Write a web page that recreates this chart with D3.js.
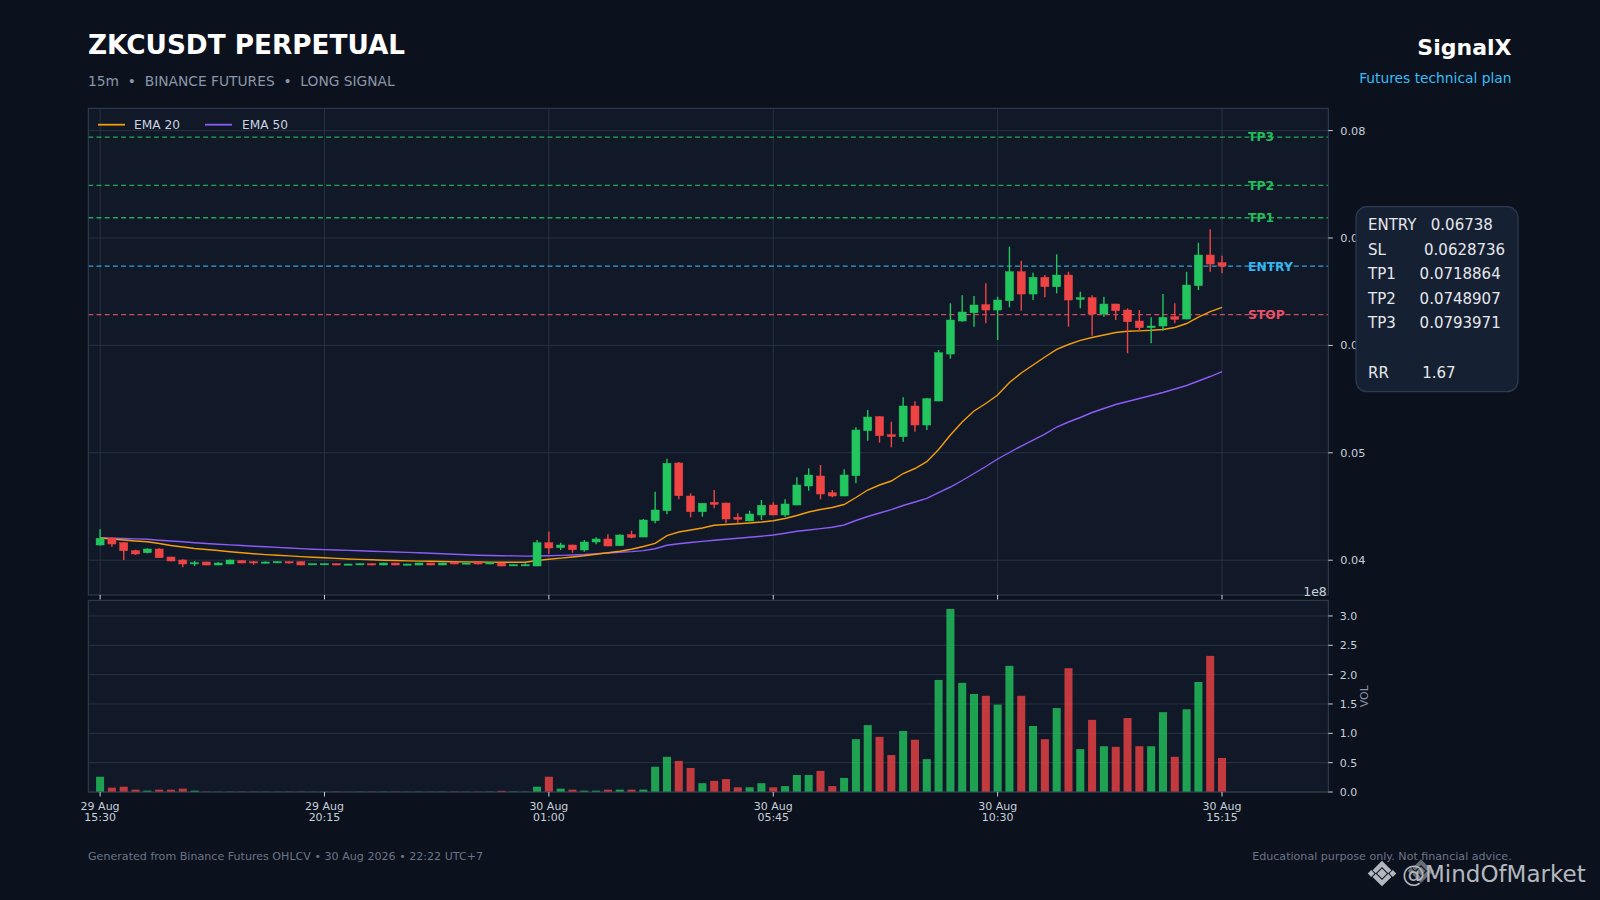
<!DOCTYPE html>
<html><head><meta charset="utf-8">
<script src="https://cdn.jsdelivr.net/npm/d3@7/dist/d3.min.js"></script>
<style>
html,body{margin:0;padding:0;background:#0b111d;}
svg{display:block;font-family:"DejaVu Sans",sans-serif;}
</style></head><body>
<svg id="chart" width="1600" height="900"></svg>
<script>
// ---------- DATA ----------
const opens=[0.041415,0.042067,0.041629,0.040884,0.040698,0.041043,0.040298,0.040019,0.039674,0.039832,
0.039553,0.039646,0.039953,0.039860,0.039739,0.039767,0.039860,0.039860,0.039581,0.039590,
0.039674,0.039581,0.039581,0.039674,0.039553,0.039739,0.039553,0.039553,0.039739,0.039553,
0.039832,0.039646,0.039832,0.039646,0.039739,0.039488,0.039488,0.039460,0.041629,0.041164,
0.041415,0.040950,0.041694,0.041974,0.041350,0.042374,0.042160,0.043677,0.044608,0.049049,
0.045977,0.044515,0.045391,0.045325,0.043994,0.043650,0.044208,0.045139,0.044208,0.045139,
0.046908,0.047839,0.046284,0.045977,0.047867,0.052057,0.053360,0.051684,0.051498,0.054356,
0.052587,0.054822,0.059197,0.062270,0.063042,0.063787,0.063293,0.064159,0.066859,0.064783,
0.066338,0.065463,0.066552,0.064290,0.064439,0.062921,0.063852,0.063293,0.062270,0.061646,
0.061804,0.062670,0.062456,0.065556,0.068414,0.067697];
const highs=[0.042877,0.042113,0.041694,0.040978,0.041108,0.041108,0.040326,0.040084,0.039926,0.039860,
0.039832,0.040065,0.040019,0.039926,0.039898,0.039926,0.039898,0.039898,0.039646,0.039660,
0.039711,0.039674,0.039700,0.039711,0.039760,0.039760,0.039674,0.039767,0.039767,0.039760,
0.039860,0.039767,0.039860,0.039800,0.039767,0.039600,0.039711,0.041881,0.042653,0.041629,
0.041443,0.041881,0.042132,0.042411,0.042411,0.042746,0.043836,0.046377,0.049450,0.049142,
0.046228,0.045325,0.046536,0.045353,0.044366,0.044608,0.045605,0.045391,0.045670,0.047718,
0.048556,0.048863,0.046536,0.048463,0.052373,0.053984,0.053425,0.052894,0.055166,0.054794,
0.055101,0.059570,0.063917,0.064662,0.064597,0.065779,0.064532,0.069186,0.067883,0.066766,
0.066552,0.068479,0.066859,0.064997,0.064662,0.064532,0.063880,0.063452,0.063293,0.062614,
0.064783,0.063917,0.066859,0.069559,0.070807,0.068349];
const lows=[0.041369,0.041257,0.040019,0.040484,0.040642,0.040205,0.039898,0.039339,0.039460,0.039525,
0.039525,0.039618,0.039711,0.039581,0.039711,0.039749,0.039674,0.039525,0.039553,0.039560,
0.039525,0.039560,0.039560,0.039525,0.039530,0.039525,0.039530,0.039540,0.039530,0.039540,
0.039618,0.039618,0.039600,0.039630,0.039432,0.039470,0.039460,0.039432,0.040577,0.040950,
0.040698,0.040791,0.041480,0.041294,0.041322,0.042039,0.042132,0.043435,0.044273,0.045670,
0.043994,0.044050,0.044832,0.043435,0.043491,0.043622,0.043743,0.044180,0.044050,0.045111,
0.046470,0.045670,0.045856,0.045949,0.047159,0.051125,0.050939,0.050511,0.051032,0.051964,
0.052122,0.054794,0.058760,0.062205,0.061739,0.062055,0.060500,0.063545,0.063228,0.064224,
0.064476,0.064848,0.061739,0.063452,0.060901,0.062670,0.062363,0.059262,0.061274,0.060193,
0.061367,0.062055,0.062428,0.065156,0.066859,0.066710];
const closes=[0.042039,0.041508,0.040884,0.040577,0.041043,0.040233,0.039926,0.039646,0.039767,0.039553,
0.039739,0.040019,0.039739,0.039739,0.039832,0.039860,0.039739,0.039553,0.039674,0.039680,
0.039553,0.039646,0.039674,0.039553,0.039739,0.039553,0.039646,0.039739,0.039553,0.039739,
0.039646,0.039739,0.039646,0.039767,0.039460,0.039581,0.039581,0.041629,0.041136,0.041415,
0.040978,0.041694,0.041974,0.041322,0.042346,0.042132,0.043743,0.044674,0.049021,0.046005,
0.044515,0.045297,0.045204,0.043836,0.043808,0.044301,0.045111,0.044208,0.045232,0.047001,
0.047932,0.046163,0.045977,0.047932,0.052122,0.053332,0.051591,0.051498,0.054356,0.052587,
0.055036,0.059318,0.062363,0.063107,0.063759,0.063293,0.064224,0.066859,0.064783,0.066338,
0.065463,0.066552,0.064224,0.064439,0.062921,0.063852,0.063228,0.062205,0.061646,0.061804,
0.062614,0.062428,0.065621,0.068414,0.067576,0.067380];
const volumes=[2.6e7,7.4e6,9.0e6,4.0e6,2.3e6,4.0e6,4.0e6,5.7e6,2.3e6,6e5,
4e5,5e5,6e5,4e5,3e5,4e5,5e5,6e5,3e5,4e5,
5e5,3e5,4e5,5e5,4e5,6e5,3e5,5e5,4e5,5e5,
6e5,4e5,5e5,6e5,2.0e6,8e5,6e5,9.0e6,2.6e7,5.7e6,
4.0e6,2.3e6,2.3e6,4.0e6,4.0e6,4.0e6,4.0e6,4.3e7,6.0e7,5.3e7,
4.1e7,1.5e7,1.9e7,2.2e7,8.0e6,8.0e6,1.5e7,8.0e6,1.0e7,2.9e7,
2.9e7,3.6e7,1.0e7,2.4e7,9.0e7,1.14e8,9.4e7,6.3e7,1.04e8,8.9e7,
5.6e7,1.91e8,3.12e8,1.86e8,1.67e8,1.64e8,1.49e8,2.15e8,1.64e8,1.125e8,
9.0e7,1.43e8,2.11e8,7.3e7,1.23e8,7.8e7,7.7e7,1.26e8,7.8e7,7.8e7,
1.36e8,6.0e7,1.41e8,1.875e8,2.32e8,5.8e7];
const ema20=[0.042067,0.041974,0.041881,0.041788,0.041713,0.041555,0.041369,0.041229,0.041089,0.040996,
0.040903,0.040791,0.040689,0.040596,0.040521,0.040466,0.040400,0.040335,0.040270,0.040223,
0.040168,0.040112,0.040074,0.040037,0.040000,0.039972,0.039935,0.039916,0.039898,0.039879,
0.039860,0.039842,0.039832,0.039823,0.039814,0.039804,0.039814,0.039972,0.040084,0.040196,
0.040298,0.040410,0.040549,0.040689,0.040829,0.041024,0.041275,0.041573,0.042281,0.042625,
0.042812,0.042998,0.043249,0.043324,0.043389,0.043463,0.043556,0.043677,0.043882,0.044161,
0.044487,0.044720,0.044906,0.045186,0.045837,0.046536,0.047001,0.047374,0.048072,0.048537,
0.049170,0.050306,0.051656,0.052866,0.053891,0.054589,0.055380,0.056544,0.057428,0.058173,
0.058918,0.059635,0.060082,0.060473,0.060733,0.060966,0.061199,0.061311,0.061357,0.061404,
0.061478,0.061664,0.062036,0.062642,0.063154,0.063545];
const ema50=[0.042095,0.042058,0.042020,0.041983,0.041946,0.041862,0.041788,0.041713,0.041629,0.041555,
0.041480,0.041424,0.041369,0.041303,0.041248,0.041192,0.041136,0.041080,0.041024,0.040987,
0.040950,0.040912,0.040875,0.040838,0.040801,0.040763,0.040726,0.040689,0.040642,0.040596,
0.040549,0.040503,0.040466,0.040438,0.040419,0.040400,0.040382,0.040391,0.040419,0.040447,
0.040484,0.040531,0.040614,0.040670,0.040735,0.040801,0.040894,0.041071,0.041387,0.041527,
0.041648,0.041750,0.041853,0.041955,0.042048,0.042132,0.042234,0.042346,0.042514,0.042691,
0.042812,0.042942,0.043072,0.043277,0.043696,0.044068,0.044394,0.044702,0.045093,0.045418,
0.045763,0.046303,0.046815,0.047420,0.048072,0.048724,0.049422,0.050027,0.050632,0.051191,
0.051749,0.052401,0.052866,0.053285,0.053751,0.054123,0.054496,0.054775,0.055054,0.055334,
0.055613,0.055939,0.056265,0.056684,0.057102,0.057549];
const xTickIndex=[0,19,38,57,76,95];
const xTickDay=["29 Aug","29 Aug","30 Aug","30 Aug","30 Aug","30 Aug"];
const xTickTime=["15:30","20:15","01:00","05:45","10:30","15:15"];
const priceTicks=[0.04,0.05,0.06,0.07,0.08];
const volTicks=[0,0.5e8,1.0e8,1.5e8,2.0e8,2.5e8,3.0e8];
const levelNames=["TP3","TP2","TP1","ENTRY","STOP"];
const levelValues=[0.0793971,0.0748907,0.0718864,0.06738,0.0628736];
const infoLines=["ENTRY   0.06738","SL        0.0628736","TP1     0.0718864","TP2     0.0748907","TP3     0.0793971","","RR       1.67"];
const legendNames=["EMA 20","EMA 50"];

// ---------- LAYOUT / STYLE ----------
const C={bg:"#0b111d",panel:"#111827",grid:"#263243",spine:"#334155",tick:"#c8d0da",
  up:"#22c55e",down:"#ef4444",ema20:"#f59e0b",ema50:"#8b5cf6",
  tp:"#22c55e",entry:"#38bdf8",stop:"#f0566c"};
const L={left:88.3,right:1328.3,pTop:108.3,pBot:595,vTop:600.3,vBot:792};
const levelColors=[C.tp,C.tp,C.tp,C.entry,C.stop];

const svg=d3.select("#chart");
svg.append("rect").attr("width",1600).attr("height",900).attr("fill",C.bg);

const n=closes.length;
const x=d3.scaleLinear().domain([-1,104]).range([L.left,L.right]);
const y=d3.scaleLinear().domain([0.03676,0.082076]).range([L.pBot,L.pTop]);
const yv=d3.scaleLinear().domain([0,3.267e8]).range([L.vBot,L.vTop]);
const step=x(1)-x(0), bw=step*0.68;

// panels
svg.append("rect").attr("x",L.left).attr("y",L.pTop).attr("width",L.right-L.left).attr("height",L.pBot-L.pTop).attr("fill",C.panel);
svg.append("rect").attr("x",L.left).attr("y",L.vTop).attr("width",L.right-L.left).attr("height",L.vBot-L.vTop).attr("fill",C.panel);

// grid
const g=svg.append("g");
g.selectAll(".hg").data(priceTicks).join("line").attr("x1",L.left).attr("x2",L.right)
 .attr("y1",d=>y(d)).attr("y2",d=>y(d)).attr("stroke",C.grid).attr("stroke-width",1);
g.selectAll(".vg").data(xTickIndex).join("line").attr("y1",L.pTop).attr("y2",L.pBot)
 .attr("x1",d=>x(d)).attr("x2",d=>x(d)).attr("stroke",C.grid).attr("stroke-width",1);
g.selectAll(".vhg").data(volTicks).join("line").attr("x1",L.left).attr("x2",L.right)
 .attr("y1",d=>yv(d)).attr("y2",d=>yv(d)).attr("stroke",C.grid).attr("stroke-width",1);

// level lines
const lv=svg.append("g");
levelValues.forEach((v,k)=>{
  lv.append("line").attr("x1",L.left).attr("x2",L.right).attr("y1",y(v)).attr("y2",y(v))
    .attr("stroke",levelColors[k]).attr("stroke-width",1.3).attr("stroke-dasharray","5,3.2").attr("opacity",0.85);
});

// EMAs
const idx=d3.range(n);
const line=arr=>d3.line().x(i=>x(i)).y(i=>y(arr[i]))(idx);
svg.append("path").attr("d",line(ema50)).attr("fill","none").attr("stroke",C.ema50).attr("stroke-width",1.4);
svg.append("path").attr("d",line(ema20)).attr("fill","none").attr("stroke",C.ema20).attr("stroke-width",1.4);

// candles
const cg=svg.append("g");
idx.forEach(i=>{
  const up=closes[i]>=opens[i], col=up?C.up:C.down;
  cg.append("line").attr("x1",x(i)).attr("x2",x(i)).attr("y1",y(highs[i])).attr("y2",y(lows[i]))
    .attr("stroke",col).attr("stroke-width",1.4);
  const top=y(Math.max(opens[i],closes[i])), bot=y(Math.min(opens[i],closes[i]));
  cg.append("rect").attr("x",x(i)-bw/2).attr("width",bw).attr("y",top).attr("height",Math.max(1.2,bot-top))
    .attr("fill",col).attr("stroke",col).attr("stroke-width",0.5);
});

// volume bars
svg.append("g").selectAll("rect").data(idx).join("rect")
  .attr("x",i=>x(i)-bw/2).attr("width",bw)
  .attr("y",i=>yv(volumes[i])).attr("height",i=>yv(0)-yv(volumes[i]))
  .attr("fill",i=>closes[i]>=opens[i]?C.up:C.down).attr("opacity",0.8);

// level labels
levelValues.forEach((v,k)=>{
  svg.append("text").attr("x",1248).attr("y",y(v)).attr("dy","0.36em").attr("fill",levelColors[k])
    .attr("font-size",12.3).attr("font-weight","bold").attr("opacity",0.95).text(levelNames[k]);
});

// spines
[[L.pTop,L.pBot],[L.vTop,L.vBot]].forEach(([t,b])=>{
  svg.append("rect").attr("x",L.left).attr("y",t).attr("width",L.right-L.left).attr("height",b-t)
   .attr("fill","none").attr("stroke",C.spine).attr("stroke-width",1);
});

// y axes (right)
const ax=svg.append("g");
priceTicks.forEach(v=>{
  ax.append("line").attr("x1",L.right).attr("x2",L.right+4.5).attr("y1",y(v)).attr("y2",y(v)).attr("stroke",C.tick);
  ax.append("text").attr("x",L.right+12).attr("y",y(v)).attr("dy","0.36em").attr("fill",C.tick)
    .attr("font-size",11.3).text(d3.format(".2f")(v));
});
volTicks.forEach(v=>{
  ax.append("line").attr("x1",L.right).attr("x2",L.right+4.5).attr("y1",yv(v)).attr("y2",yv(v)).attr("stroke",C.tick);
  ax.append("text").attr("x",L.right+11.5).attr("y",yv(v)).attr("dy","0.36em").attr("fill",C.tick)
    .attr("font-size",11).text(d3.format(".1f")(v/1e8));
});
ax.append("text").attr("x",L.right-1.5).attr("y",595.5).attr("text-anchor","end").attr("fill",C.tick)
  .attr("font-size",12.5).text("1e8");
ax.append("text").attr("transform",`translate(1368,${(L.vTop+L.vBot)/2}) rotate(-90)`).attr("text-anchor","middle")
  .attr("fill","#8a94a6").attr("font-size",11).text("VOL");

// x axis
xTickIndex.forEach((t,k)=>{
  ax.append("line").attr("x1",x(t)).attr("x2",x(t)).attr("y1",L.pBot).attr("y2",L.pBot+4.5).attr("stroke",C.tick);
  ax.append("line").attr("x1",x(t)).attr("x2",x(t)).attr("y1",L.vBot).attr("y2",L.vBot+4.5).attr("stroke",C.tick);
  const tx=ax.append("text").attr("text-anchor","middle").attr("fill",C.tick).attr("font-size",11);
  tx.append("tspan").attr("x",x(t)).attr("y",810).text(xTickDay[k]);
  tx.append("tspan").attr("x",x(t)).attr("y",821).text(xTickTime[k]);
});

// legend
const lg=svg.append("g");
[[98,134,C.ema20],[205,242,C.ema50]].forEach(([lx,tx,col],k)=>{
  lg.append("line").attr("x1",lx).attr("x2",lx+27).attr("y1",124.7).attr("y2",124.7).attr("stroke",col).attr("stroke-width",1.8);
  lg.append("text").attr("x",tx).attr("y",129.3).attr("fill","#cbd5e1").attr("font-size",12.2).text(legendNames[k]);
});

// info box
svg.append("rect").attr("x",1356).attr("y",206.7).attr("width",162).attr("height",185).attr("rx",11)
  .attr("fill","#162033").attr("stroke","#2d3b52").attr("stroke-width",1.2);
const it=svg.append("text").attr("fill","#e5e7eb").attr("font-size",15).attr("xml:space","preserve").style("white-space","pre");
infoLines.forEach((s,k)=>{
  it.append("tspan").attr("x",1368).attr("y",230+k*24.6).text(s);
});

// header
svg.append("text").attr("x",88).attr("y",54.3).attr("fill","#ffffff").attr("font-size",26.3).attr("font-weight","bold").text("ZKCUSDT PERPETUAL");
svg.append("text").attr("x",88).attr("y",86.3).attr("fill","#8b97a8").attr("font-size",13.8).style("white-space","pre").attr("xml:space","preserve")
  .text("15m  •  BINANCE FUTURES  •  LONG SIGNAL");
svg.append("text").attr("x",1511.5).attr("y",54.5).attr("text-anchor","end").attr("fill","#ffffff").attr("font-size",22).attr("font-weight","bold").text("SignalX");
svg.append("text").attr("x",1511.5).attr("y",83).attr("text-anchor","end").attr("fill","#38bdf8").attr("font-size",13.8).text("Futures technical plan");

// footer
svg.append("text").attr("x",88).attr("y",860).attr("fill","#6b7585").attr("font-size",11.1)
  .text("Generated from Binance Futures OHLCV • 30 Aug 2026 • 22:22 UTC+7");
svg.append("text").attr("x",1511.7).attr("y",860).attr("text-anchor","end").attr("fill","#6b7585").attr("font-size",11.1)
  .text("Educational purpose only. Not financial advice.");

// watermark
const wm=svg.append("g").attr("opacity",0.85);
function bnbLogo(cx,cy,s,fill,op){
  const grp=wm.append("g").attr("opacity",op);
  const sq=(dx,dy,r)=>grp.append("rect").attr("x",cx+dx-r).attr("y",cy+dy-r).attr("width",2*r).attr("height",2*r)
    .attr("transform",`rotate(45,${cx+dx},${cy+dy})`).attr("fill",fill);
  sq(0,0,2.6*s); sq(-8*s,0,1.8*s); sq(8*s,0,1.8*s);
  const chev=(dir)=>grp.append("path").attr("d",`M${cx-7*s},${cy+dir*2.5*s} L${cx},${cy+dir*9.5*s} L${cx+7*s},${cy+dir*2.5*s} L${cx+4.6*s},${cy+dir*0.2*s} L${cx},${cy+dir*4.8*s} L${cx-4.6*s},${cy+dir*0.2*s}Z`).attr("fill",fill);
  chev(-1); chev(1);
}
bnbLogo(1382,873.5,1.35,"#d1d5db",1);
bnbLogo(1421,871,1.25,"#d1d5db",0.55);
wm.append("text").attr("x",1402).attr("y",881.7).attr("fill","#d1d5db").attr("font-size",23).text("@MindOfMarket");
</script>
</body></html>
